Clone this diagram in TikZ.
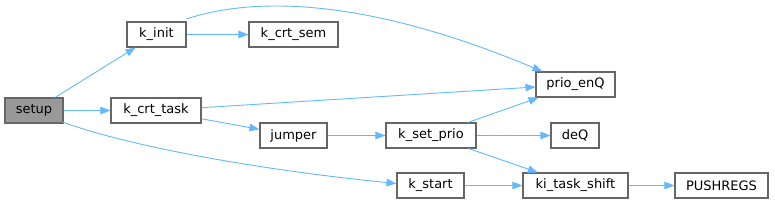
\documentclass[tikz,border=0pt]{standalone}
\usepackage{fontspec}
\setmainfont{DejaVu Sans}
\usetikzlibrary{arrows.meta}
\definecolor{edgec}{HTML}{63B8FF}
\definecolor{bordc}{HTML}{666666}
\definecolor{setupc}{HTML}{999999}
\tikzset{
  fn/.style={draw=bordc, line width=1.1pt, fill=white, rectangle, minimum height=25pt, inner sep=0pt, font=\fontsize{13}{15}\selectfont, text=black},
  cur/.style={fn, fill=setupc},
  edge/.style={draw=edgec, line width=0.9pt, -{Triangle[length=10pt,width=7.5pt]}}
}
\begin{document}
\begin{tikzpicture}[x=1pt,y=-1pt]
\useasboundingbox (0,0) rectangle (775,204);
\node[cur, minimum width=58pt] (setup) at (34,110.5) {setup};
\node[fn, minimum width=59pt] (kinit) at (156.5,34.5) {k\_init};
\node[fn, minimum width=89pt] (kcrtsem) at (293.5,34.5) {k\_crt\_sem};
\node[fn, minimum width=90pt] (kcrttask) at (156,110.5) {k\_crt\_task};
\node[fn, minimum width=67pt] (jumper) at (293.5,135.5) {jumper};
\node[fn, minimum width=90pt] (ksetprio) at (431,135.5) {k\_set\_prio};
\node[fn, minimum width=67pt] (kstart) at (430.5,185.5) {k\_start};
\node[fn, minimum width=79pt] (prioenq) at (575.5,84.5) {prio\_enQ};
\node[fn, minimum width=48pt] (deq) at (575,135.5) {deQ};
\node[fn, minimum width=105pt] (kitask) at (575.5,185.5) {ki\_task\_shift};
\node[fn, minimum width=93pt] (pushregs) at (721.5,185.5) {PUSHREGS};

\draw[edge] (setup) -- (kinit);
\draw[edge] (setup) -- (kcrttask);
\draw[edge] ([xshift=-1pt,yshift=1.5pt]setup.south east) .. controls (140,150) and (280,172) .. ([yshift=2pt]kstart.west);
\draw[edge] (kinit) -- (kcrtsem);
\draw[edge] ([yshift=2.5pt]kinit.north east) .. controls (250,-2) and (360,-5) .. ([xshift=7pt]prioenq.north west);
\draw[edge] (kcrttask) -- (prioenq);
\draw[edge] (kcrttask) -- (jumper);
\draw[edge] (jumper) -- (ksetprio);
\draw[edge] (ksetprio) -- (prioenq);
\draw[edge] (ksetprio) -- (deq);
\draw[edge] (ksetprio) -- (kitask);
\draw[edge] (kstart) -- (kitask);
\draw[edge] (kitask) -- (pushregs);
\end{tikzpicture}
\end{document}
